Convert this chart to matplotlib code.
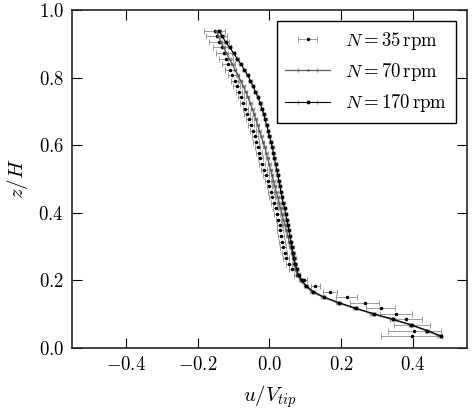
import matplotlib
matplotlib.use("Agg")
import matplotlib.pyplot as plt

plt.rcParams["font.family"] = "serif"
plt.rcParams["font.serif"] = ["cmr10"]
plt.rcParams["mathtext.fontset"] = "cm"
plt.rcParams["axes.formatter.use_mathtext"] = True

# height levels z/H (shared by all runs)
z = [0.036, 0.052, 0.069, 0.085, 0.102, 0.118, 0.134, 0.151, 0.167, 0.184,
     0.200, 0.216, 0.233, 0.249, 0.266, 0.282, 0.298, 0.315, 0.331, 0.348,
     0.364, 0.380, 0.397, 0.413, 0.430, 0.446, 0.462, 0.479, 0.495, 0.512,
     0.528, 0.544, 0.561, 0.577, 0.594, 0.610, 0.626, 0.643, 0.659, 0.676,
     0.692, 0.708, 0.725, 0.741, 0.758, 0.774, 0.790, 0.807, 0.823, 0.840,
     0.856, 0.872, 0.889, 0.905, 0.922, 0.938]

# N = 35 rpm
u35 = [0.396, 0.404, 0.398, 0.380, 0.352, 0.310, 0.265, 0.215, 0.168, 0.128,
       0.096, 0.076, 0.063, 0.054, 0.047, 0.042, 0.038, 0.035, 0.032, 0.030,
       0.028, 0.025, 0.021, 0.017, 0.012, 0.008, 0.004, 0.000, -0.005, -0.010,
       -0.015, -0.020, -0.025, -0.029, -0.033, -0.037, -0.041, -0.046, -0.051, -0.056,
       -0.062, -0.067, -0.073, -0.079, -0.085, -0.091, -0.097, -0.103, -0.109, -0.115,
       -0.121, -0.127, -0.133, -0.140, -0.147, -0.153]
err35 = [0.085, 0.075, 0.050, 0.045, 0.045, 0.040, 0.040, 0.030, 0.020, 0.012,
         0.008, 0.008, 0.008, 0.008, 0.008, 0.008, 0.008, 0.008, 0.008, 0.008,
         0.008, 0.008, 0.008, 0.008, 0.008, 0.008, 0.008, 0.008, 0.008, 0.008,
         0.008, 0.008, 0.008, 0.008, 0.008, 0.008, 0.008, 0.008, 0.008, 0.008,
         0.008, 0.008, 0.008, 0.008, 0.008, 0.010, 0.010, 0.012, 0.015, 0.018,
         0.020, 0.022, 0.025, 0.028, 0.030, 0.030]

# N = 70 rpm
u70 = [0.472, 0.436, 0.392, 0.340, 0.285, 0.236, 0.190, 0.148, 0.118, 0.100,
       0.087, 0.078, 0.073, 0.069, 0.066, 0.063, 0.059, 0.055, 0.051, 0.047,
       0.043, 0.039, 0.035, 0.031, 0.027, 0.023, 0.019, 0.015, 0.011, 0.007,
       0.003, -0.001, -0.005, -0.009, -0.013, -0.018, -0.023, -0.028, -0.033, -0.038,
       -0.043, -0.048, -0.054, -0.060, -0.066, -0.073, -0.080, -0.088, -0.096, -0.104,
       -0.112, -0.120, -0.128, -0.135, -0.142, -0.148]

# N = 170 rpm
u170 = [0.478, 0.440, 0.395, 0.345, 0.290, 0.240, 0.195, 0.152, 0.122, 0.103,
        0.090, 0.081, 0.076, 0.072, 0.069, 0.066, 0.063, 0.060, 0.057, 0.054,
        0.051, 0.048, 0.045, 0.042, 0.038, 0.035, 0.032, 0.029, 0.026, 0.023,
        0.020, 0.017, 0.014, 0.011, 0.008, 0.004, 0.000, -0.004, -0.008, -0.012,
        -0.016, -0.021, -0.026, -0.032, -0.039, -0.046, -0.053, -0.061, -0.070, -0.080,
        -0.090, -0.100, -0.111, -0.122, -0.132, -0.140]

fig = plt.figure(figsize=(4.74, 4.11), dpi=100)
ax = fig.add_axes([0.152, 0.153, 0.833, 0.823])

ax.errorbar(u35, z, xerr=err35, fmt=".", color="black", markersize=3,
            ecolor="0.55", elinewidth=0.6, capsize=2, capthick=0.6,
            label=r"$N = 35\,\mathrm{rpm}$")
ax.errorbar(u70, z, xerr=0.004, fmt="-", marker=".", color="0.35", markersize=1.5,
            linewidth=0.9, ecolor="0.6", elinewidth=0.5, capsize=1.5,
            label=r"$N = 70\,\mathrm{rpm}$")
ax.errorbar(u170, z, xerr=0.004, fmt="-", marker=".", color="black", markersize=3.5,
            linewidth=0.8, ecolor="0.6", elinewidth=0.5, capsize=1.5,
            label=r"$N = 170\,\mathrm{rpm}$")

ax.set_xlim(-0.55, 0.55)
ax.set_ylim(0.0, 1.0)
ax.set_xticks([-0.4, -0.2, 0.0, 0.2, 0.4])
ax.set_yticks([0.0, 0.2, 0.4, 0.6, 0.8, 1.0])
ax.tick_params(direction="in", length=7, width=0.8, top=True, right=True,
               labelsize=13.5, pad=6)
for s in ax.spines.values():
    s.set_linewidth(1.2)
    s.set_color("0.15")

ax.set_xlabel(r"$u/V_{tip}$", fontsize=15, labelpad=6)
ax.set_ylabel(r"$z/H$", fontsize=15, labelpad=6)

leg = ax.legend(loc="upper right", fontsize=13.5, fancybox=False, framealpha=1,
                edgecolor="black", handlelength=2.4, borderpad=0.45,
                labelspacing=0.5, borderaxespad=0.6)
leg.get_frame().set_linewidth(1.0)

fig.savefig("out.png", dpi=100)
